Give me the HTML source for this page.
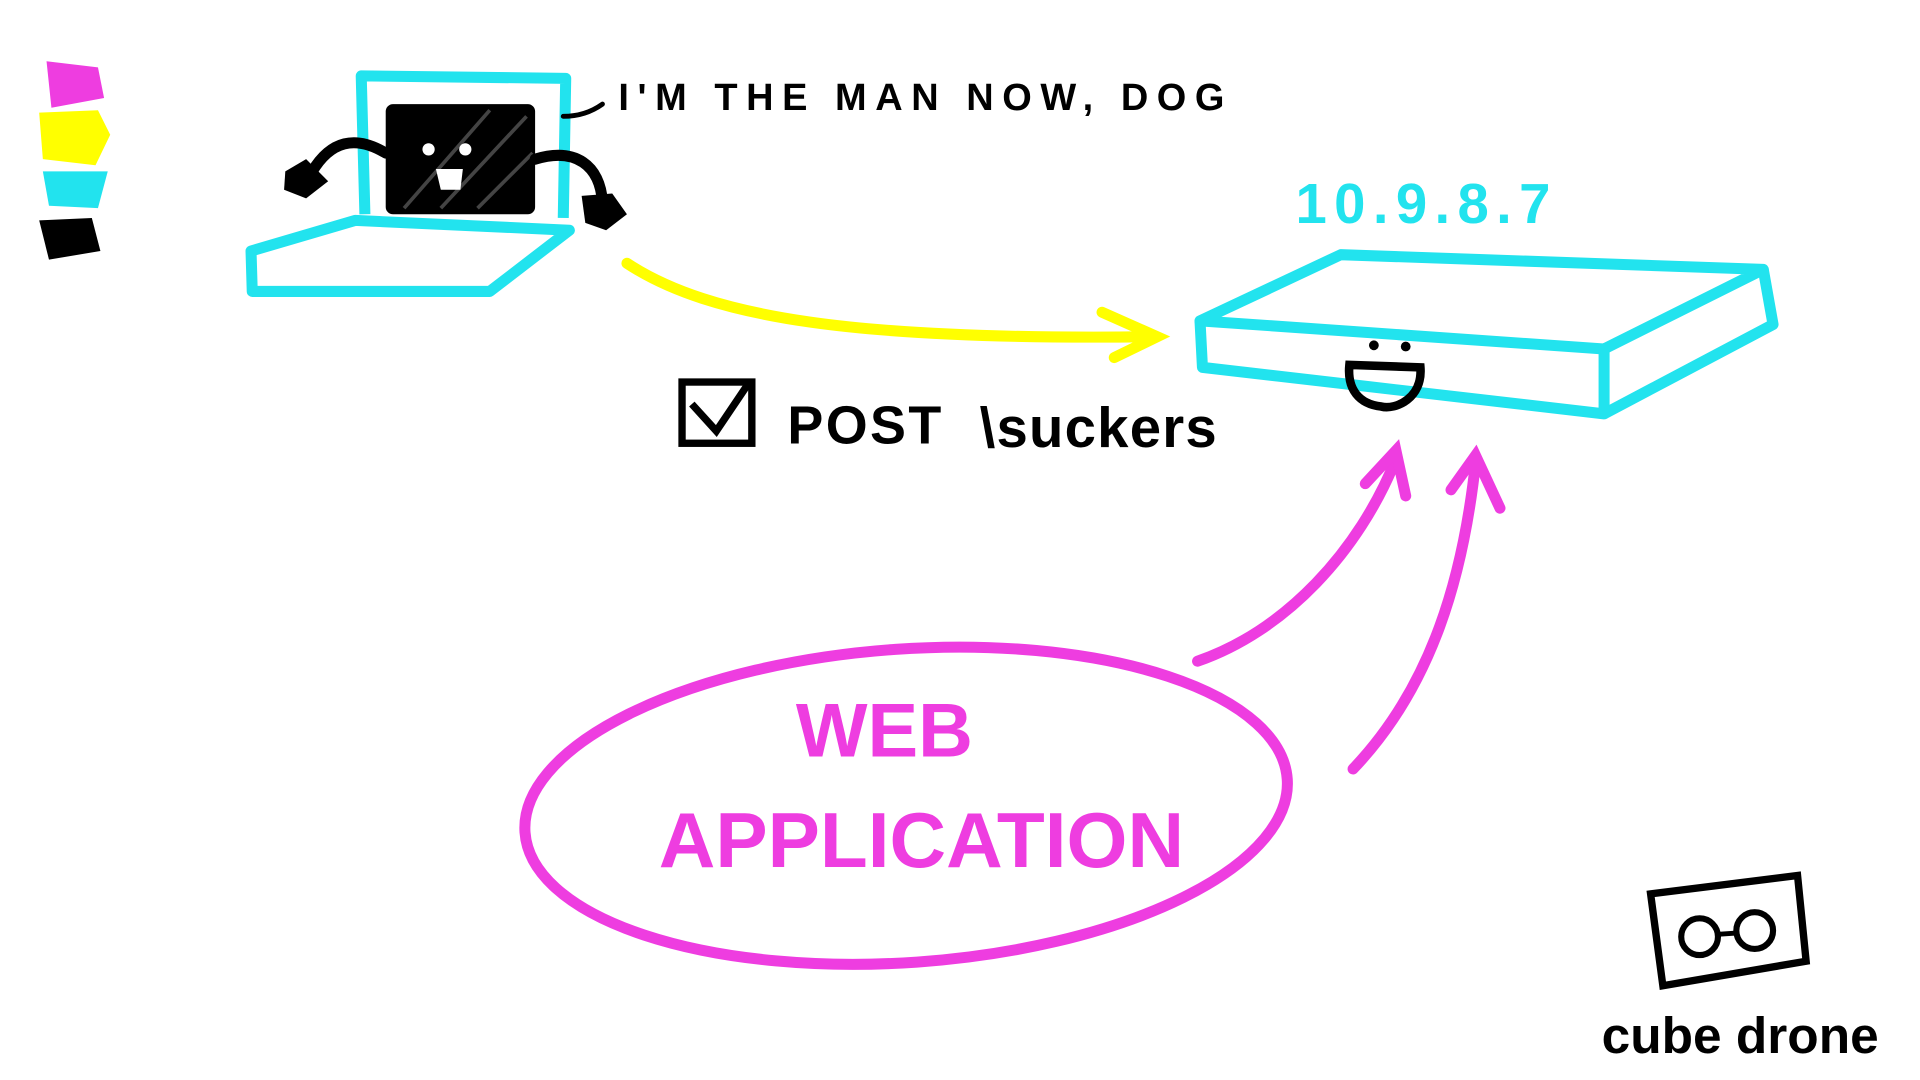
<!DOCTYPE html>
<html><head><meta charset="utf-8"><style>
html,body{margin:0;padding:0;background:#fff;width:1920px;height:1080px;overflow:hidden}
svg{display:block}
text{font-family:"Liberation Sans",sans-serif;font-weight:bold}
</style></head><body>
<svg width="1920" height="1080" viewBox="0 0 1568 882" preserveAspectRatio="none" xmlns="http://www.w3.org/2000/svg">
<rect width="1568" height="882" fill="#fff"/>
<path d="M38,50 L80,55 L85,80 L42,88 Z" fill="#ee3de0"/>
<path d="M32,92 L80,90 L90,110 L78,135 L35,130 Z" fill="#ffff00"/>
<path d="M35,140 L88,140 L80,170 L40,168 Z" fill="#22e3ee"/>
<path d="M32,180 L75,178 L82,205 L40,212 Z" fill="#000"/>
<g fill="none" stroke="#22e3ee" stroke-width="9" stroke-linejoin="round">
<path d="M298,175 L295,62 L462,64 L460,178"/>
<path d="M205,205 L290,180 L465,188 L400,238 L206,238 Z"/>
</g>
<rect x="315" y="85" width="122" height="90" rx="6" fill="#000"/>
<g stroke="#444" stroke-width="3"><line x1="330" y1="170" x2="400" y2="90"/><line x1="360" y1="170" x2="430" y2="95"/><line x1="390" y1="170" x2="435" y2="125"/></g>
<circle cx="350" cy="122" r="5" fill="#fff"/><circle cx="380" cy="122" r="5" fill="#fff"/>
<path d="M356,138 L378,138 L376,155 L360,155 Z" fill="#fff"/>
<g fill="none" stroke="#000" stroke-width="9" stroke-linecap="round">
<path d="M315,125 C290,110 270,115 255,140"/>
<path d="M437,130 C470,120 490,135 492,165"/>
<path d="M460,95 C475,95 485,90 492,85" stroke-width="4"/>
</g>
<path d="M233,140 L250,130 L268,148 L250,162 L232,155 Z" fill="#000"/>
<path d="M475,160 L500,158 L512,175 L495,188 L478,182 Z" fill="#000"/>
<text x="505" y="90" font-size="31" fill="#000" letter-spacing="7">I'M THE MAN NOW, DOG</text>
<g fill="none" stroke="#ffff00" stroke-width="9" stroke-linecap="round">
<path d="M512,215 C580,260 700,278 940,275"/>
<path d="M900,255 L945,275 L910,292"/>
</g>
<rect x="557" y="312" width="57" height="50" fill="none" stroke="#000" stroke-width="6"/>
<path d="M565,330 L585,352 L612,312" fill="none" stroke="#000" stroke-width="6"/>
<text x="643" y="362" font-size="44" fill="#000" letter-spacing="2">POST</text>
<text x="800" y="365" font-size="46" fill="#000" font-weight="normal" letter-spacing="1">\suckers</text>
<text x="1058" y="182" font-size="46" fill="#22e3ee" letter-spacing="6">10.9.8.7</text>
<g fill="none" stroke="#22e3ee" stroke-width="9" stroke-linejoin="round">
<path d="M980,262 L1095,208 L1440,220 L1310,285 Z"/>
<path d="M980,262 L982,300 L1310,338 L1310,285"/>
<path d="M1310,338 L1448,265 L1440,220"/>
</g>
<circle cx="1122" cy="282" r="4" fill="#000"/><circle cx="1148" cy="283" r="4" fill="#000"/>
<path d="M1102,298 L1160,300 C1162,325 1140,335 1128,332 C1110,330 1100,318 1102,298 Z" fill="none" stroke="#000" stroke-width="7"/>
<ellipse cx="740" cy="658" rx="312" ry="128" transform="rotate(-4 740 658)" fill="none" stroke="#ee3de0" stroke-width="9"/>
<text x="650" y="618" font-size="62" fill="#ee3de0">WEB</text>
<text x="538" y="708" font-size="64" fill="#ee3de0">APPLICATION</text>
<g fill="none" stroke="#ee3de0" stroke-width="9" stroke-linecap="round">
<path d="M978,540 C1050,515 1110,450 1140,375"/>
<path d="M1115,395 L1140,368 L1148,405"/>
<path d="M1105,628 C1170,560 1195,470 1205,378"/>
<path d="M1185,400 L1205,372 L1225,415"/>
</g>
<path d="M1348,730 L1468,715 L1475,785 L1358,805 Z" fill="none" stroke="#000" stroke-width="6"/>
<circle cx="1388" cy="765" r="15" fill="none" stroke="#000" stroke-width="5"/>
<circle cx="1433" cy="760" r="15" fill="none" stroke="#000" stroke-width="5"/>
<line x1="1403" y1="763" x2="1418" y2="762" stroke="#000" stroke-width="4"/>
<text x="1308" y="860" font-size="42" fill="#000" font-weight="normal">cube drone</text>
</svg>
</body></html>
